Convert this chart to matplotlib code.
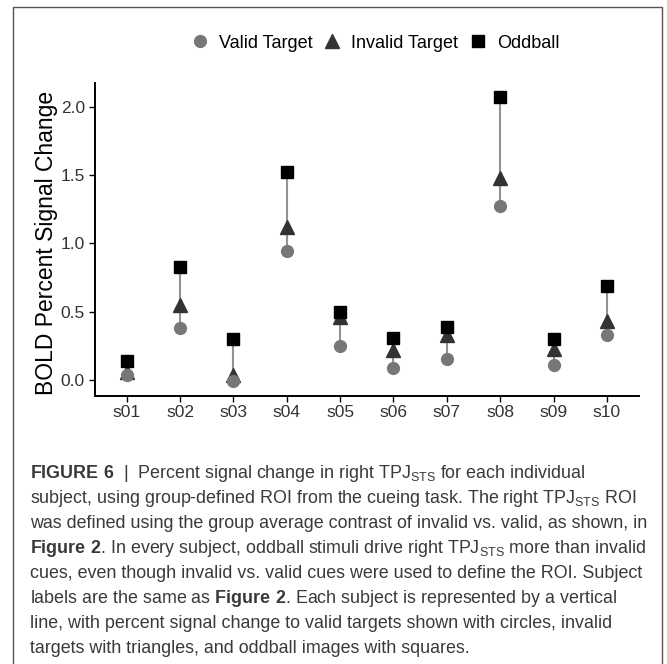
import numpy as np
import matplotlib
matplotlib.use('Agg')
import matplotlib.pyplot as plt
from matplotlib.lines import Line2D
from matplotlib.patches import Rectangle

plt.rcParams['font.family'] = ['Liberation Sans', 'DejaVu Sans']
plt.rcParams['mathtext.fontset'] = 'custom'
plt.rcParams['mathtext.rm'] = 'Liberation Sans'
plt.rcParams['mathtext.bf'] = 'Liberation Sans:bold'

# Data
subjects = ['s01', 's02', 's03', 's04', 's05', 's06', 's07', 's08', 's09', 's10']
valid = [0.04, 0.38, -0.01, 0.94, 0.25, 0.09, 0.15, 1.27, 0.11, 0.33]
invalid = [0.06, 0.55, 0.04, 1.12, 0.46, 0.22, 0.33, 1.48, 0.23, 0.43]
oddball = [0.14, 0.83, 0.30, 1.52, 0.50, 0.31, 0.39, 2.07, 0.30, 0.69]

yticks = [0.0, 0.5, 1.0, 1.5, 2.0]

caption = [
    r"$\mathbf{FIGURE\ 6}$  |  Percent signal change in right TPJ$_{\mathrm{STS}}$ for each individual",
    r"subject, using group-defined ROI from the cueing task. The right TPJ$_{\mathrm{STS}}$ ROI",
    r"was defined using the group average contrast of invalid vs. valid, as shown, in",
    r"$\mathbf{Figure\ 2}$. In every subject, oddball stimuli drive right TPJ$_{\mathrm{STS}}$ more than invalid",
    r"cues, even though invalid vs. valid cues were used to define the ROI. Subject",
    r"labels are the same as $\mathbf{Figure\ 2}$. Each subject is represented by a vertical",
    r"line, with percent signal change to valid targets shown with circles, invalid",
    r"targets with triangles, and oddball images with squares.",
]

W, H = 667, 664
fig = plt.figure(figsize=(W / 100, H / 100), dpi=100)

# outer frame
fig.patches.append(Rectangle((13 / W, -0.05), (662 - 13) / W, 1.05 - 7 / H,
                             transform=fig.transFigure, fill=False,
                             edgecolor='#555555', linewidth=1.0))

ax = fig.add_axes([94.6 / W, 1 - 395.7 / H, (639 - 94.6) / W, (395.7 - 83.3) / H])
x = np.arange(1, len(subjects) + 1)

lo = np.minimum(np.minimum(valid, invalid), oddball)
hi = np.maximum(np.maximum(valid, invalid), oddball)
ax.vlines(x, lo, hi, color='#939393', linewidth=1.5, zorder=1)
ax.plot(x, invalid, '^', color='#333333', markersize=10, zorder=2)
ax.plot(x, valid, 'o', color='#777777', markersize=8.5, zorder=3)
ax.plot(x, oddball, 's', color='black', markersize=8, zorder=4)

ax.set_xlim(0.4, 10.6)
ax.set_ylim(-0.115, 2.17)
ax.set_xticks(x)
ax.set_xticklabels(subjects)
ax.set_yticks(yticks)
ax.set_yticklabels(['%.1f' % t for t in yticks])
ax.tick_params(labelsize=12.5, labelcolor='#333333', length=4, width=1.0, color='black', pad=3)
for s in ['top', 'right']:
    ax.spines[s].set_visible(False)
for s in ['left', 'bottom']:
    ax.spines[s].set_linewidth(1.4)
ax.set_ylabel('BOLD Percent Signal Change', fontsize=16.5, color='black')
ax.yaxis.set_label_coords(-(94.6 - 58) / (639 - 94.6), 0.49)

handles = [
    Line2D([], [], marker='o', color='#777777', linestyle='none', markersize=8.5),
    Line2D([], [], marker='^', color='#333333', linestyle='none', markersize=10),
    Line2D([], [], marker='s', color='black', linestyle='none', markersize=8),
]
fig.legend(handles, ['Valid Target', 'Invalid Target', 'Oddball'], ncol=3,
           loc='center', bbox_to_anchor=(375 / W, 1 - 43 / H), frameon=False,
           fontsize=13, handlelength=1.0, handletextpad=0.55, columnspacing=0.6)

y0 = 1 - 474 / H
dy = 24.9 / H
for i, line in enumerate(caption):
    fig.text(30 / W, y0 - i * dy, line, fontsize=12.9, color='#3a3a3a',
             ha='left', va='center')

fig.savefig('out.png', dpi=100)
